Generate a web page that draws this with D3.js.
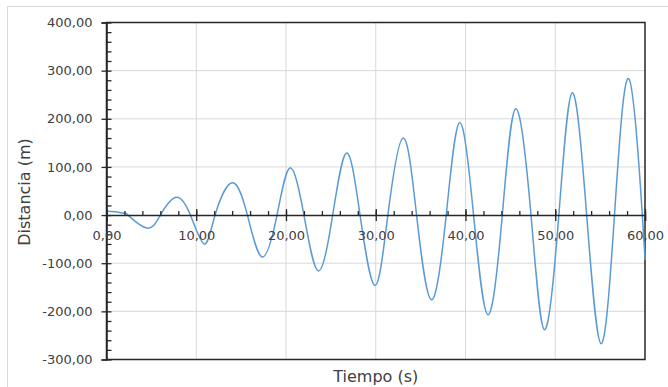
<!DOCTYPE html>
<html><head><meta charset="utf-8">
<script src="https://cdn.jsdelivr.net/npm/d3@7"></script>
<style>
html,body{margin:0;padding:0;background:#fff;}
svg{display:block;font-family:"DejaVu Sans",sans-serif;}
</style></head>
<body><svg id="c" width="668" height="387"></svg>
<script>
const time = [0, 1, 2, 2.4, 4.5, 6.0, 7.75, 9.35, 10.9, 12.1, 14.0, 15.7, 17.35, 19.0, 20.45, 22.0, 23.6, 25.2, 26.75, 28.25, 29.9, 31.35, 33.05, 34.55, 36.2, 37.85, 39.35, 40.9, 42.5, 44.1, 45.6, 47.3, 48.8, 50.4, 51.9, 53.5, 55.1, 56.6, 58.2, 59.7, 60];
const distance = [8, 7, 4, 0, -27, 0, 37, 0, -60, 0, 67, 0, -87, 0, 98, 0, -116, 0, 129, 0, -146, 0, 160, 0, -176, 0, 192, 0, -207, 0, 221, 0, -238, 0, 254, 0, -267, 0, 283, 0, -93];
const xTicks = [0, 10, 20, 30, 40, 50, 60];
const yTicks = [-300, -200, -100, 0, 100, 200, 300, 400];
const xTitle = "Tiempo (s)";
const yTitle = "Distancia (m)";

const svg = d3.select("#c");
const loc = d3.formatLocale({decimal: ",", thousands: ".", grouping: [3], currency: ["", ""], minus: "-"});
const fmt = loc.format(".2f");

const x = d3.scaleLinear().domain([0, 60]).range([106.5, 645]);
const y = d3.scaleLinear().domain([-300, 400]).range([359.5, 22.5]);

// outer chart frame
svg.append("rect").attr("x", 7.5).attr("y", 6.5).attr("width", 700).attr("height", 420)
  .attr("fill", "#fff").attr("stroke", "#d9d9d9").attr("stroke-width", 1);

// gridlines
const g = svg.append("g");
g.selectAll("line.v").data(xTicks.slice(1, -1)).join("line")
  .attr("x1", d => x(d)).attr("x2", d => x(d)).attr("y1", y(400)).attr("y2", y(-300))
  .attr("stroke", "#d9d9d9").attr("stroke-width", 1);
g.selectAll("line.h").data(yTicks.filter(d => d !== 0 && d !== 400 && d !== -300)).join("line")
  .attr("x1", x(0)).attr("x2", x(60)).attr("y1", d => y(d)).attr("y2", d => y(d))
  .attr("stroke", "#d9d9d9").attr("stroke-width", 1);

// plot border
svg.append("rect").attr("x", x(0)).attr("y", y(400)).attr("width", x(60) - x(0)).attr("height", y(-300) - y(400))
  .attr("fill", "none").attr("stroke", "#262626").attr("stroke-width", 1.5);

// data line
const pts = time.map((t, i) => [t, distance[i]]);
svg.append("path").datum(pts)
  .attr("fill", "none").attr("stroke", "#5b9bd5").attr("stroke-width", 1.5)
  .attr("d", d3.line().x(d => x(d[0])).y(d => y(d[1])).curve(d3.curveNatural));

// y axis: minor ticks inside
const yMinor = d3.range(-300, 401, 20);
svg.append("g").attr("transform", `translate(${x(0)},0)`)
  .call(d3.axisRight(y).tickValues(yMinor).tickSize(5).tickFormat(""))
  .call(s => s.select(".domain").remove())
  .call(s => s.selectAll("line").attr("stroke", "#262626").attr("stroke-width", 1.3));
svg.append("g").attr("transform", `translate(${x(0)},0)`)
  .call(d3.axisLeft(y).tickValues(yTicks).tickSize(5).tickPadding(9).tickFormat(fmt))
  .call(s => s.select(".domain").attr("stroke", "#262626").attr("stroke-width", 1.5))
  .call(s => s.selectAll("line").attr("stroke", "#262626").attr("stroke-width", 1.3))
  .call(s => s.selectAll("text").attr("fill", "#404040").attr("font-size", 13).attr("font-family", "DejaVu Sans"));

// x axis at y=0
const xMinor = d3.range(0, 61, 2);
svg.append("g").attr("transform", `translate(0,${y(0)})`)
  .call(d3.axisTop(x).tickValues(xMinor).tickSize(4).tickFormat(""))
  .call(s => s.select(".domain").remove())
  .call(s => s.selectAll("line").attr("stroke", "#262626").attr("stroke-width", 1.3));
svg.append("g").attr("transform", `translate(0,${y(0)})`)
  .call(d3.axisBottom(x).tickValues(xTicks).tickSize(6).tickPadding(10).tickFormat(fmt))
  .call(s => s.select(".domain").attr("stroke", "#262626").attr("stroke-width", 1.5))
  .call(s => s.selectAll("line").attr("stroke", "#262626").attr("stroke-width", 1.3).attr("y1", -6))
  .call(s => s.selectAll("text").attr("fill", "#404040").attr("font-size", 13).attr("font-family", "DejaVu Sans"));

// titles
svg.append("text").attr("x", (x(0) + x(60)) / 2).attr("y", 382)
  .attr("text-anchor", "middle").attr("font-size", 16).attr("fill", "#404040").text(xTitle);
svg.append("text").attr("transform", `translate(30,${(y(400) + y(-300)) / 2 + 1}) rotate(-90)`)
  .attr("text-anchor", "middle").attr("font-size", 16).attr("fill", "#404040").text(yTitle);
</script></body></html>
